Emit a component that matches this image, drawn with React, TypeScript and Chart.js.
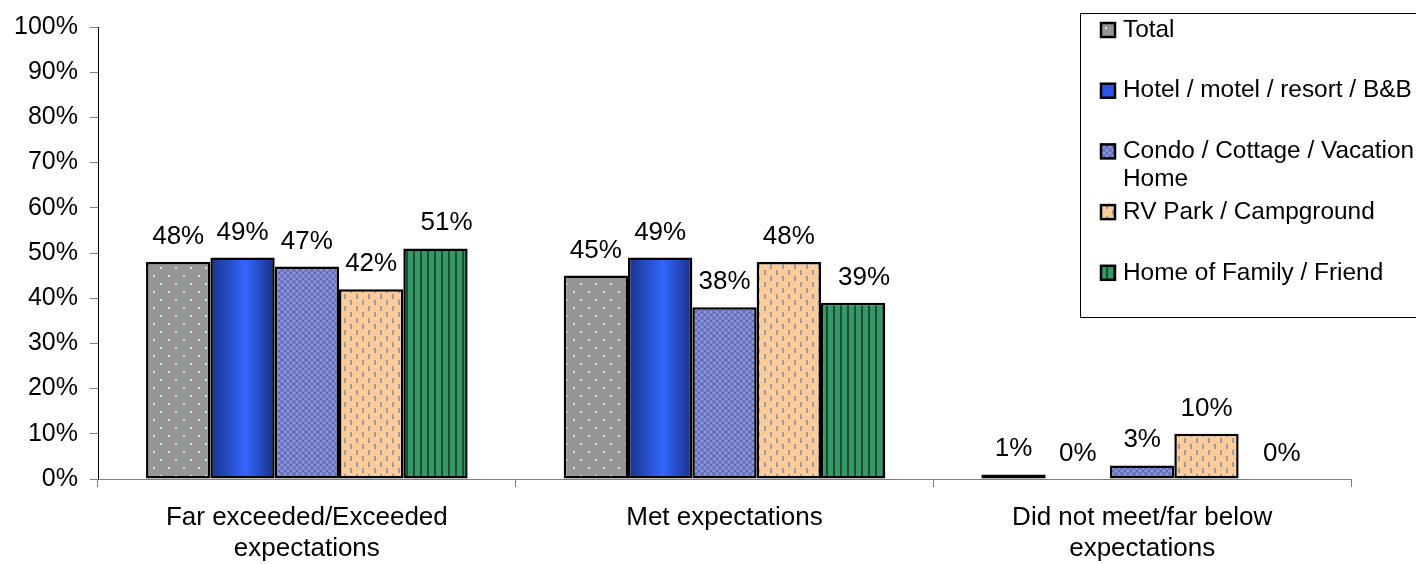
import React, { useEffect, useRef } from 'react';
import { Chart, registerables } from 'chart.js';

Chart.register(...registerables);

// ---------- data ----------
const categories: string[][] = [
  ['Far exceeded/Exceeded', 'expectations'],
  ['Met expectations'],
  ['Did not meet/far below', 'expectations'],
];
const seriesNames: string[] = [
  'Total',
  'Hotel / motel / resort / B&B',
  'Condo / Cottage / Vacation Home',
  'RV Park / Campground',
  'Home of Family / Friend',
];
const totalValues: number[] = [48, 45, 1];
const hotelValues: number[] = [49, 49, 0];
const condoValues: number[] = [47, 38, 3];
const rvValues: number[] = [42, 48, 10];
const homeValues: number[] = [51, 39, 0];
const yMin = 0;
const yMax = 100;
const yStep = 10;

const FONT = "'Liberation Sans', Arial, Helvetica, sans-serif";
const CAT_PCT = 0.77;

function makeTile(w: number, h: number, draw: (c: CanvasRenderingContext2D) => void): HTMLCanvasElement {
  const cv = document.createElement('canvas');
  cv.width = w;
  cv.height = h;
  const c = cv.getContext('2d')!;
  draw(c);
  return cv;
}

function buildPatterns(ctx: CanvasRenderingContext2D) {
  const total = makeTile(15, 16, (c) => {
    c.fillStyle = '#969696';
    c.fillRect(0, 0, 15, 16);
    c.fillStyle = '#BFEDEA';
    c.fillRect(3, 3, 2, 2);
    c.fillRect(10, 11, 2, 2);
  });
  const condo = makeTile(6, 6, (c) => {
    c.fillStyle = '#8497DD';
    c.fillRect(0, 0, 6, 6);
    c.strokeStyle = '#6666AE';
    c.lineWidth = 1.2;
    c.beginPath();
    c.moveTo(0, 0); c.lineTo(6, 6);
    c.moveTo(6, 0); c.lineTo(0, 6);
    c.stroke();
  });
  const rv = makeTile(12, 12, (c) => {
    c.fillStyle = '#FFCC99';
    c.fillRect(0, 0, 12, 12);
    c.fillStyle = '#9C9C9C';
    c.fillRect(2, 0, 2, 5);
    c.fillRect(8, 6, 2, 5);
  });
  const home = makeTile(7, 4, (c) => {
    c.fillStyle = '#339966';
    c.fillRect(0, 0, 7, 4);
    c.fillStyle = '#1E4D35';
    c.fillRect(0, 0, 2, 4);
  });
  return {
    total: ctx.createPattern(total, 'repeat')!,
    condo: ctx.createPattern(condo, 'repeat')!,
    rv: ctx.createPattern(rv, 'repeat')!,
    home: ctx.createPattern(home, 'repeat')!,
  };
}

function wrapText(ctx: CanvasRenderingContext2D, text: string, maxW: number): string[] {
  const words = text.split(' ');
  const lines: string[] = [];
  let cur = '';
  for (const w of words) {
    const t = cur ? cur + ' ' + w : w;
    if (ctx.measureText(t).width > maxW && cur) {
      lines.push(cur);
      cur = w;
    } else {
      cur = t;
    }
  }
  if (cur) lines.push(cur);
  return lines;
}

export default function App() {
  const ref = useRef<HTMLCanvasElement | null>(null);

  useEffect(() => {
    const canvas = ref.current!;
    const ctx = canvas.getContext('2d')!;
    const pats = buildPatterns(ctx);

    const hotelFill = (c: any) => {
      const chart = c.chart;
      const xs = chart.scales && chart.scales.x;
      if (c.type !== 'data' || !xs || !chart.chartArea) return '#2C55E6';
      const cw = xs.width / categories.length;
      const bw = (cw * CAT_PCT) / seriesNames.length;
      const center = xs.getPixelForValue(c.dataIndex);
      const left = center - (cw * CAT_PCT) / 2 + c.datasetIndex * bw;
      const g = chart.ctx.createLinearGradient(left, 0, left + bw, 0);
      g.addColorStop(0, '#18328C');
      g.addColorStop(0.55, '#3366FF');
      g.addColorStop(1, '#172F85');
      return g;
    };

    const legendFills = [pats.total, '#2C55E6', pats.condo, pats.rv, pats.home];
    const labelShift = [0, 0, 0, 0, 11];

    const dataLabels = {
      id: 'dataLabels',
      afterDatasetsDraw(chart: any) {
        const c = chart.ctx;
        c.save();
        c.font = `26px ${FONT}`;
        c.fillStyle = '#000';
        c.textAlign = 'center';
        c.textBaseline = 'alphabetic';
        chart.data.datasets.forEach((ds: any, di: number) => {
          const meta = chart.getDatasetMeta(di);
          meta.data.forEach((el: any, i: number) => {
            const v = ds.data[i];
            c.fillText(`${v}%`, el.x + labelShift[di], el.y - 18);
          });
        });
        c.restore();
      },
    };

    const boxLegend = {
      id: 'boxLegend',
      afterDraw(chart: any) {
        const c = chart.ctx;
        c.save();
        c.fillStyle = '#fff';
        c.fillRect(1080.5, 13.5, 400, 304);
        c.strokeStyle = '#000';
        c.lineWidth = 1;
        c.strokeRect(1080.5, 13.5, 400, 304);
        c.font = `24.4px ${FONT}`;
        c.textBaseline = 'middle';
        c.textAlign = 'left';
        chart.data.datasets.forEach((ds: any, i: number) => {
          const y = 30 + i * 60.7;
          c.fillStyle = legendFills[i];
          c.fillRect(1101, y - 7, 14, 14);
          c.lineWidth = 2.5;
          c.strokeStyle = '#000';
          c.strokeRect(1101, y - 7, 14, 14);
          c.fillStyle = '#000';
          const lines = wrapText(c, ds.label, 300);
          lines.forEach((ln: string, j: number) => c.fillText(ln, 1123, y + j * 28));
        });
        c.restore();
      },
    };

    const common = {
      borderColor: '#000',
      borderWidth: 2.5,
      borderSkipped: false,
      categoryPercentage: CAT_PCT,
      barPercentage: 1.0,
    };

    const chart = new Chart(ctx, {
      type: 'bar',
      data: {
        labels: categories as any,
        datasets: [
          { label: seriesNames[0], data: totalValues, backgroundColor: pats.total, ...common },
          { label: seriesNames[1], data: hotelValues, backgroundColor: hotelFill as any, ...common },
          { label: seriesNames[2], data: condoValues, backgroundColor: pats.condo, ...common },
          { label: seriesNames[3], data: rvValues, backgroundColor: pats.rv, ...common },
          { label: seriesNames[4], data: homeValues, backgroundColor: pats.home, ...common },
        ] as any,
      },
      options: {
        responsive: false,
        animation: false,
        layout: { padding: { left: 0, right: 65, top: 22, bottom: 0 } },
        plugins: {
          legend: { display: false },
          tooltip: { enabled: false },
        },
        scales: {
          x: {
            type: 'category',
            offset: true,
            grid: {
              display: true,
              drawOnChartArea: false,
              drawTicks: true,
              tickLength: 8,
              color: '#808080',
              offset: true,
            },
            border: { display: true, color: '#808080', width: 1 },
            ticks: {
              color: '#000',
              font: { family: FONT, size: 26 },
              padding: 15,
              maxRotation: 0,
              autoSkip: false,
            },
            afterFit: (s: any) => {
              s.height = 85;
            },
          },
          y: {
            min: yMin,
            max: yMax,
            ticks: {
              stepSize: yStep,
              callback: (v: any) => `${v}%`,
              color: '#000',
              font: { family: FONT, size: 25 },
              padding: 12,
            },
            grid: {
              drawOnChartArea: false,
              drawTicks: true,
              tickLength: 8,
              color: '#808080',
            },
            border: { display: true, color: '#000', width: 1 },
            afterFit: (s: any) => {
              s.width = 98;
            },
          },
        },
      } as any,
      plugins: [dataLabels, boxLegend],
    });

    return () => chart.destroy();
  }, []);

  return (
    <div style={{ position: 'absolute', left: 0, top: 0, width: 1416, height: 564, background: '#fff' }}>
      <canvas ref={ref} width={1416} height={564} style={{ display: 'block', width: 1416, height: 564 }} />
    </div>
  );
}
